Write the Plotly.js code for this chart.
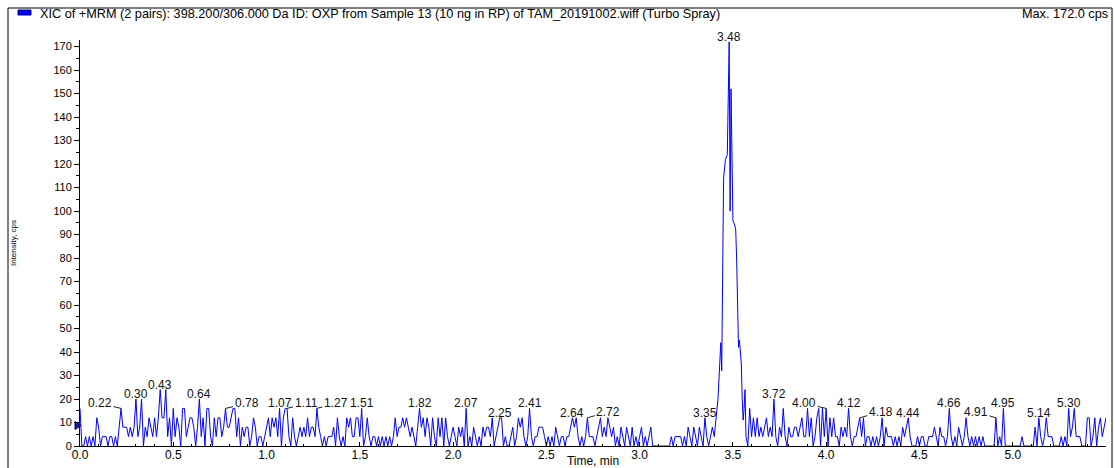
<!DOCTYPE html>
<html>
<head>
<meta charset="utf-8">
<script src="https://cdn.plot.ly/plotly-3.0.1.min.js"></script>
<style>
  html, body { margin: 0; padding: 0; background: #ffffff; }
  #chart { width: 1115px; height: 468px; }
</style>
</head>
<body>
<div id="chart"></div>
<script>
// XIC trace, 398.2/306.0 transition. Baseline segments are sampled every 0.01 min.
const baseStartA = 0.00;
const baseStepA = 0.01;
const baseIntensityA = [
  16,0,0,4,0,4,0,4,0,12,
  8,0,4,4,4,0,4,4,0,4,
  0,8,16,8,8,8,4,8,4,8,
  20,4,8,20,0,8,4,12,8,4,
  12,4,12,24,12,12,24,4,12,0,
  16,4,12,8,0,16,16,4,8,12,
  12,8,0,8,20,4,12,0,16,16,
  4,0,12,4,12,12,4,8,16,8,
  8,12,16,16,4,12,0,8,4,8,
  8,0,4,12,8,0,4,4,0,4,
  8,12,4,12,8,12,4,16,0,12,
  16,16,4,0,12,4,0,4,8,4,
  8,4,12,4,8,8,4,16,8,4,
  0,4,0,4,4,4,8,0,12,4,
  0,4,0,12,8,12,4,4,12,12,
  4,16,0,4,12,4,0,4,4,0,
  4,0,4,0,4,0,4,0,4,12,
  4,8,8,12,8,12,8,4,8,4,
  0,8,16,8,12,4,12,8,0,12,
  4,0,12,4,12,0,12,4,0,4,
  8,4,0,8,4,8,0,16,0,4,
  0,8,4,0,4,0,8,4,8,8,
  4,12,0,4,8,12,12,0,4,0,
  0,4,8,0,4,12,8,12,4,0,
  4,16,4,0,4,4,8,8,8,4,
  0,4,0,4,0,8,4,0,4,4,
  0,4,4,8,12,8,12,4,0,4,
  0,4,12,4,4,4,0,4,8,12,
  4,8,4,12,8,4,8,0,4,0,
  8,4,0,8,4,0,8,0,4,0,
  4,8,0,4,0,4,8,0,0,0,
  0,0,0,0,0,0,0,4,0,4,
  4,4,4,0,4,0,8,4,0,8,
  4,0,8,4,0,12,4,0,4,8
];

// Eluting peak, denser sampling.
const peakTime = [3.39,3.40,3.41,3.42,3.43,3.435,3.44,3.445,3.45,3.46,3.47,3.48,3.485,3.49,3.50,
                  3.51,3.515,3.52,3.525,3.53,3.535,3.54,3.545,3.55,3.555,3.56,3.565,3.57,3.58];
const peakIntensity = [8,4,12,20,36,44,32,96,114,122,124,172,100,152,96,
                       94,92,80,60,42,45,40,35,20,11,16,24,4,0];

const baseStartB = 3.58;
const baseStepB = 0.01;
const baseIntensityB = [
  0,16,
  4,12,4,12,4,8,4,8,12,4,
  8,4,20,4,0,8,4,16,4,0,
  8,4,4,8,8,4,8,12,4,4,
  16,4,12,0,4,12,16,0,16,4,
  16,0,12,4,12,4,4,0,8,4,
  8,4,16,4,0,4,4,8,12,4,
  12,0,4,4,0,4,0,4,0,4,
  12,0,8,4,4,4,0,4,0,4,
  0,8,4,8,12,4,0,0,0,4,
  0,4,4,0,0,4,4,4,8,4,
  0,8,4,4,0,4,16,4,0,4,
  0,8,4,0,4,12,4,0,4,0,
  4,0,4,0,4,0,0,0,0,0,
  0,12,0,4,0,16,0,0,0,0,
  0,0,0,0,0,4,0,0,0,0,
  0,0,8,0,12,4,0,4,12,4,
  4,4,0,0,0,0,4,0,4,0,
  16,4,8,16,4,4,4,0,0,0,
  12,12,0,4,12,0,8,12,4,8,
  12
];

// Apex retention times that carry a label.
const apexTimes = [0.22,0.30,0.43,0.64,0.78,1.07,1.11,1.27,1.51,1.82,2.07,2.25,2.41,2.64,2.72,
                   3.35,3.48,3.72,4.00,4.12,4.18,4.44,4.66,4.91,4.95,5.14,5.30];

const xTickVals = [0,0.5,1,1.5,2,2.5,3,3.5,4,4.5,5];
const titleText = 'XIC of +MRM (2 pairs): 398.200/306.000 Da ID: OXP from Sample 13 (10 ng in RP) of TAM_20191002.wiff (Turbo Spray)';

// ---- layout geometry (pixels) ----
const W = 1115, H = 468;
const plotL = 80, plotR = 1106, plotT = 40, plotB = 446;
const px2paperX = p => (p - plotL) / (plotR - plotL);
const px2paperY = p => (plotB - p) / (plotB - plotT);
const FONT = '"Liberation Sans", Arial, Helvetica, sans-serif';
const LINE = '#0000ff';

function intensityAt(t) {
  const pi = peakTime.findIndex(v => Math.abs(v - t) < 1e-6);
  if (pi >= 0) return peakIntensity[pi];
  if (t < peakTime[0]) return baseIntensityA[Math.round((t - baseStartA) / baseStepA)];
  return baseIntensityB[Math.round((t - baseStartB) / baseStepB)];
}

// label offsets (px) for the ones drawn with a short leader line
const leader = {
  '0.22': [-21, -5], '0.78': [21, -5], '1.11': [19, -5], '1.27': [19, -5],
  '2.72': [21, -6], '4.00': [-22, -5], '4.18': [21, -6], '4.91': [-20, -6]
};

const labelAnnotations = apexTimes.map(t => {
  const key = t.toFixed(2);
  const a = {
    xref: 'x', yref: 'y', x: t, y: intensityAt(t), text: key,
    font: { family: FONT, size: 12, color: '#111111' }
  };
  if (leader[key]) {
    Object.assign(a, {
      showarrow: true, arrowhead: 0, arrowwidth: 1, arrowcolor: '#222222',
      ax: leader[key][0], ay: leader[key][1], standoff: 0, startstandoff: 0
    });
  } else {
    Object.assign(a, { showarrow: false, yanchor: 'middle', yshift: 5 });
  }
  return a;
});

const maxIntensity = Math.max(...baseIntensityA, ...peakIntensity, ...baseIntensityB);

const traceStyle = { type: 'scatter', mode: 'lines', line: { color: LINE, width: 1 }, hoverinfo: 'skip' };
const traces = [
  Object.assign({ y: baseIntensityA, x0: baseStartA, dx: baseStepA }, traceStyle),
  Object.assign({ x: peakTime, y: peakIntensity }, traceStyle),
  Object.assign({ y: baseIntensityB, x0: baseStartB, dx: baseStepB }, traceStyle)
];

const layout = {
  width: W, height: H,
  margin: { l: plotL, r: W - plotR, t: plotT, b: H - plotB, pad: 0 },
  paper_bgcolor: '#ffffff', plot_bgcolor: '#ffffff',
  showlegend: false,
  font: { family: FONT, size: 11, color: '#000000' },
  title: {
    text: titleText, xref: 'container', yref: 'container',
    x: 40 / W, xanchor: 'left', y: 1 - 14 / H, yanchor: 'middle',
    font: { family: FONT, size: 12.7, color: '#000000' }
  },
  xaxis: {
    range: [0, 5.5], tickvals: xTickVals, tickformat: '.1f',
    showline: true, linecolor: '#000000', linewidth: 1, mirror: false,
    ticks: 'inside', ticklen: 4, tickcolor: '#000000', tickwidth: 1,
    minor: { dtick: 0.1, ticks: 'inside', ticklen: 2, tickcolor: '#000000' },
    showgrid: false, zeroline: false, automargin: false,
    tickfont: { family: FONT, size: 12, color: '#000000' },
    ticklabelstandoff: -2,
    title: { text: 'Time, min', font: { family: FONT, size: 12, color: '#000000' }, standoff: 0 }
  },
  yaxis: {
    range: [0, 172.8], dtick: 10, tick0: 0,
    showline: true, linecolor: '#000000', linewidth: 1,
    ticks: 'outside', ticklen: 5, tickcolor: '#000000', tickwidth: 1,
    minor: { dtick: 5, ticks: 'outside', ticklen: 3, tickcolor: '#000000' },
    showgrid: false, zeroline: false, automargin: false,
    tickfont: { family: FONT, size: 11, color: '#000000' },
    title: { text: 'Intensity, cps', font: { family: FONT, size: 8, color: '#000000' }, standoff: 35 }
  },
  annotations: labelAnnotations.concat([
    {
      xref: 'paper', yref: 'paper', x: px2paperX(1110), y: px2paperY(14),
      xanchor: 'right', yanchor: 'middle', showarrow: false,
      text: 'Max. ' + maxIntensity.toFixed(1) + ' cps',
      font: { family: FONT, size: 12.7, color: '#000000' }
    }
  ]),
  shapes: [
    // outer panel frame
    { type: 'rect', xref: 'paper', yref: 'paper',
      x0: px2paperX(8), x1: px2paperX(1112), y0: px2paperY(472), y1: px2paperY(8),
      line: { color: '#000000', width: 1 }, fillcolor: 'rgba(0,0,0,0)' },
    // trace colour key
    { type: 'rect', xref: 'paper', yref: 'paper',
      x0: px2paperX(18), x1: px2paperX(31), y0: px2paperY(15), y1: px2paperY(10),
      line: { color: '#00008b', width: 1 }, fillcolor: '#0000ff' },
    // threshold marker on the intensity axis
    { type: 'path', xref: 'paper', yref: 'paper',
      path: 'M ' + px2paperX(75) + ' ' + px2paperY(421.5) +
            ' L ' + px2paperX(81) + ' ' + px2paperY(425.5) +
            ' L ' + px2paperX(75) + ' ' + px2paperY(429.5) + ' Z',
      line: { color: '#000060', width: 1 }, fillcolor: '#1a1aa0' }
  ]
};

Plotly.newPlot('chart', traces, layout, { displayModeBar: false, staticPlot: true });
</script>
</body>
</html>
